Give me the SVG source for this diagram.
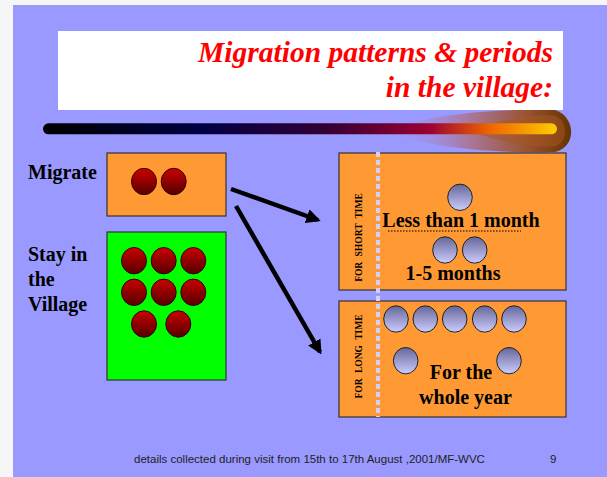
<svg xmlns="http://www.w3.org/2000/svg" width="607" height="477" viewBox="0 0 607 477">
<defs>
<linearGradient id="red" x1="0" y1="0" x2="0" y2="1"><stop offset="0" stop-color="#cc0000"/><stop offset="1" stop-color="#550000"/></linearGradient>
<linearGradient id="blue" x1="0" y1="0" x2="0" y2="1"><stop offset="0" stop-color="#666699"/><stop offset="1" stop-color="#ccccff"/></linearGradient>
<linearGradient id="bar" gradientUnits="userSpaceOnUse" x1="43" y1="0" x2="557" y2="0">
<stop offset="0" stop-color="#000000"/><stop offset="0.31" stop-color="#000044"/><stop offset="0.55" stop-color="#330033"/><stop offset="0.75" stop-color="#990033"/><stop offset="0.87" stop-color="#ee6600"/><stop offset="1" stop-color="#ffcc00"/>
</linearGradient>
<linearGradient id="swoosh" gradientUnits="userSpaceOnUse" x1="385" y1="0" x2="572" y2="0">
<stop offset="0" stop-color="#9999ff" stop-opacity="0"/><stop offset="0.45" stop-color="#aa7799"/><stop offset="0.75" stop-color="#995533"/><stop offset="1" stop-color="#663300"/>
</linearGradient>
<marker id="ah" viewBox="0 0 10 10" refX="8" refY="5" markerWidth="3.2" markerHeight="3.2" orient="auto" markerUnits="strokeWidth"><path d="M0,0 L10,5 L0,10 Z" fill="#000"/></marker>
</defs>
<style>
.box{stroke:#333;stroke-width:1.2}
.org{fill:#ff9933}
.rc{fill:url(#red);stroke:#330000;stroke-width:1}
.bc{fill:url(#blue);stroke:#222;stroke-width:1}
.lbl{font-family:"Liberation Serif","Times New Roman",serif;font-weight:bold;font-size:20px;fill:#000}
.vt{font-family:"Liberation Serif","Times New Roman",serif;font-weight:bold;font-size:9.5px;fill:#000;word-spacing:3px}
.conn{stroke:#000;stroke-width:4.5;fill:none;marker-end:url(#ah)}
</style>
<rect x="0" y="0" width="607" height="477" fill="#f6f6f6"/>
<rect x="13" y="5" width="594" height="472" fill="#9999ff"/>
<g id="swoosh-deco">
<path d="M385,131 C440,110 520,109 555,110 C575,116 578,146 555,152 C520,153 440,152 385,131 Z" fill="url(#swoosh)"/>
<path d="M470,131 C510,116 545,114 556,116 C568,122 568,141 556,146 C545,148 510,146 470,131 Z" fill="#aa5522" opacity="0.5"/>
</g>
<rect id="title-box" x="58" y="31" width="505" height="79" fill="#fff"/>
<g id="title" font-family="'Liberation Serif','Times New Roman',serif" font-weight="bold" font-style="italic" font-size="29.5" fill="#ff0000" text-anchor="end">
<text x="553" y="62">Migration patterns &amp; periods</text>
<text x="553" y="97">in the village:</text>
</g>
<line x1="48.5" y1="128.8" x2="551.5" y2="128.8" stroke="url(#bar)" stroke-width="11" stroke-linecap="round"/>
<g id="migrate">
<text class="lbl" x="28" y="179">Migrate</text>
<rect class="box org" x="107" y="153" width="119" height="63"/>
<ellipse class="rc" cx="144" cy="181.5" rx="12.5" ry="13.2"/>
<ellipse class="rc" cx="173.7" cy="181.5" rx="12.5" ry="13.2"/>
</g>
<g id="stay">
<text class="lbl" x="28" y="261">Stay in</text>
<text class="lbl" x="28" y="286">the</text>
<text class="lbl" x="28" y="311">Village</text>
<rect class="box" x="107" y="232" width="119" height="148" fill="#00ff00"/>
<ellipse class="rc" cx="134" cy="260.7" rx="12.5" ry="13.2"/>
<ellipse class="rc" cx="163.7" cy="260.7" rx="12.5" ry="13.2"/>
<ellipse class="rc" cx="193.3" cy="260.7" rx="12.5" ry="13.2"/>
<ellipse class="rc" cx="134" cy="292.3" rx="12.5" ry="13.2"/>
<ellipse class="rc" cx="163.7" cy="292.3" rx="12.5" ry="13.2"/>
<ellipse class="rc" cx="193.3" cy="292.3" rx="12.5" ry="13.2"/>
<ellipse class="rc" cx="144" cy="324" rx="12.5" ry="13.2"/>
<ellipse class="rc" cx="178.3" cy="324" rx="12.5" ry="13.2"/>
</g>
<g id="short-time">
<rect class="box org" x="339" y="153" width="227" height="137"/>
<text class="vt" transform="translate(362,237.5) rotate(-90)" text-anchor="middle">FOR SHORT TIME</text>
<ellipse class="bc" cx="460" cy="197.3" rx="12.3" ry="13.2"/>
<text class="lbl" x="461" y="227" text-anchor="middle">Less than 1 month</text>
<line x1="388" y1="231" x2="521" y2="231" stroke="#000" stroke-width="1" stroke-dasharray="1.5 1.5"/>
<ellipse class="bc" cx="445" cy="250" rx="12.3" ry="13.2"/>
<ellipse class="bc" cx="474.7" cy="250" rx="12.3" ry="13.2"/>
<text class="lbl" x="453" y="279.5" text-anchor="middle">1-5 months</text>
</g>
<g id="long-time">
<rect class="box org" x="339" y="301" width="227" height="116"/>
<text class="vt" transform="translate(362,356.5) rotate(-90)" text-anchor="middle">FOR LONG TIME</text>
<ellipse class="bc" cx="396" cy="319" rx="12.3" ry="13.2"/>
<ellipse class="bc" cx="425.3" cy="319" rx="12.3" ry="13.2"/>
<ellipse class="bc" cx="454.7" cy="319" rx="12.3" ry="13.2"/>
<ellipse class="bc" cx="484.7" cy="319" rx="12.3" ry="13.2"/>
<ellipse class="bc" cx="514" cy="319" rx="12.3" ry="13.2"/>
<ellipse class="bc" cx="405.7" cy="360.7" rx="12.3" ry="13.2"/>
<ellipse class="bc" cx="509" cy="360.7" rx="12.3" ry="13.2"/>
<text class="lbl" x="461" y="378.5" text-anchor="middle">For the</text>
<text class="lbl" x="465.5" y="403.5" text-anchor="middle">whole year</text>
</g>
<line id="divider" x1="378" y1="152" x2="378" y2="417" stroke="#d0d0f8" stroke-width="4" stroke-dasharray="5 3"/>
<g id="connectors">
<line class="conn" x1="231" y1="189" x2="318" y2="220"/>
<line class="conn" x1="236" y1="206" x2="320" y2="352"/>
</g>
<g id="footer" font-family="'Liberation Sans',Arial,sans-serif" font-size="11.5" fill="#222">
<text x="134" y="463">details collected during visit from 15th to 17th August ,2001/MF-WVC</text>
<text x="550" y="463">9</text>
</g>
</svg>
